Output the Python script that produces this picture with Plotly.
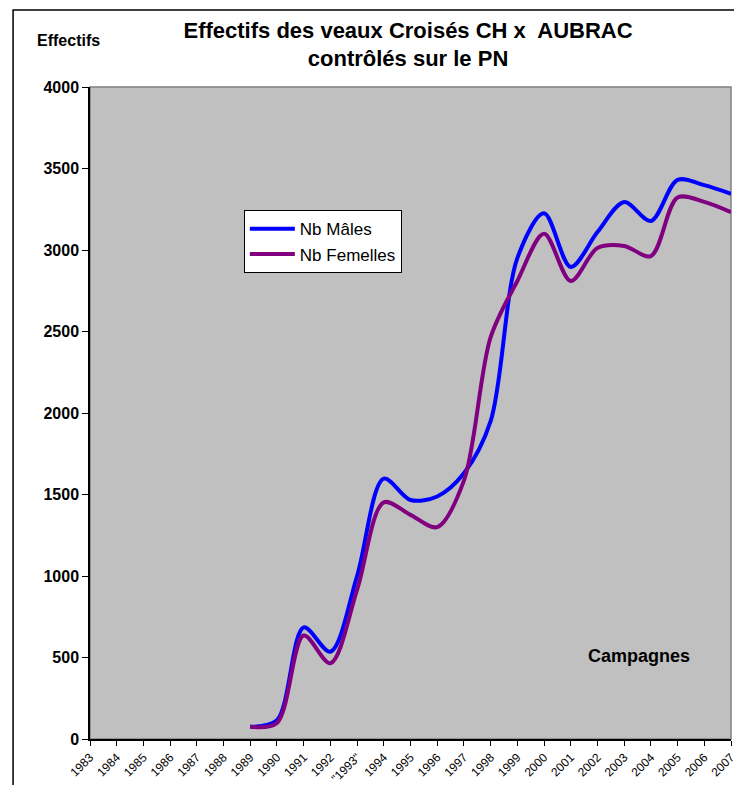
import plotly.graph_objects as go

years = ["1983", "1984", "1985", "1986", "1987", "1988", "1989", "1990", "1991", "1992",
         "\"1993\"", "1994", "1995", "1996", "1997", "1998", "1999", "2000", "2001", "2002",
         "2003", "2004", "2005", "2006", "2007"]

data_years = years[6:]
nb_males = [75, 115, 685, 535, 1000, 1597, 1466, 1488, 1630, 1950, 2950, 3225,
            2896, 3110, 3294, 3178, 3430, 3398, 3345]
nb_femelles = [75, 98, 635, 465, 915, 1452, 1375, 1300, 1585, 2465, 2810, 3100,
               2810, 3012, 3025, 2963, 3322, 3295, 3232]

FONT = "Arial, Liberation Sans, sans-serif"

fig = go.Figure()
fig.add_trace(go.Scatter(x=data_years, y=nb_males, name="Nb Mâles", mode="lines",
                         line=dict(color="#0000FF", width=4, shape="spline", smoothing=0.9)))
fig.add_trace(go.Scatter(x=data_years, y=nb_femelles, name="Nb Femelles", mode="lines",
                         line=dict(color="#800080", width=4, shape="spline", smoothing=0.9)))

# outer chart border and plot area frame
fig.add_shape(type="rect", xref="paper", yref="paper", x0=-0.12, x1=1.05, y0=-0.12, y1=1.118,
              line=dict(color="black", width=1.5), layer="below")
fig.add_shape(type="rect", xref="paper", yref="paper", x0=0, x1=1, y0=0, y1=1,
              line=dict(color="#808080", width=1.5), layer="below")

fig.add_annotation(text="<b>Effectifs</b>", xref="paper", yref="paper", x=-0.0328, y=1.072,
                   xanchor="center", yanchor="middle",
                   showarrow=False, font=dict(family=FONT, size=16, color="black"))
fig.add_annotation(text="<b>Campagnes</b>", xref="paper", yref="paper", x=0.857, y=0.127,
                   xanchor="center", yanchor="middle",
                   showarrow=False, font=dict(family=FONT, size=18, color="black"))

# page body has an 8px margin, so the figure is sized to fit inside the window
fig.update_layout(
    width=726, height=777,
    paper_bgcolor="white", plot_bgcolor="#C0C0C0",
    margin=dict(l=82, r=3, t=79, b=46),
    title=dict(text="<b>Effectifs des veaux Croisés CH x  AUBRAC<br>contrôlés sur le PN</b>",
               x=0.551, xanchor="center", y=0.962, yanchor="top",
               font=dict(family=FONT, size=22, color="black")),
    font=dict(family=FONT, color="black"),
    xaxis=dict(type="category", categoryorder="array", categoryarray=years,
               tickvals=years, ticktext=years, range=[0, 24], automargin=False,
               tickangle=-45, tickfont=dict(size=12), ticks="outside", ticklen=5,
               tickcolor="black", showline=True, linecolor="black", linewidth=1.5,
               showgrid=False, zeroline=False),
    yaxis=dict(range=[0, 4000], dtick=500, ticks="outside", ticklen=6, tickcolor="black",
               tickfont=dict(size=16, family=FONT), showline=True, linecolor="black",
               linewidth=1.5, showgrid=False, zeroline=False, tickformat="d",
               automargin=False),
    showlegend=True,
    legend=dict(x=0.240, y=0.811, xanchor="left", yanchor="top", bgcolor="white",
                bordercolor="black", borderwidth=1, font=dict(family=FONT, size=17),
                tracegroupgap=0, itemwidth=45),
)

fig.update_yaxes(tickprefix="<b>", ticksuffix="</b>")

fig.write_html("out.html")
